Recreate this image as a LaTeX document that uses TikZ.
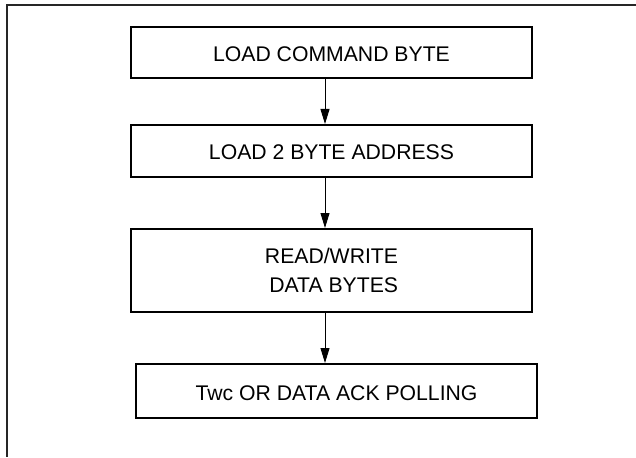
\documentclass[tikz,border=0pt]{standalone}
\usepackage{fontspec}
\setmainfont{Liberation Sans}
\usetikzlibrary{arrows.meta}
\begin{document}
\begin{tikzpicture}[x=1pt,y=-1pt,
  boxbase/.style={draw=black, line width=2pt, rectangle, inner sep=0pt,
    minimum width=401pt, font=\fontsize{21.2}{29.3}\selectfont},
  stepbox/.style={boxbase, text height=18pt, text depth=0pt},
  flow/.style={line width=1pt, -{Triangle[width=9pt,length=15pt]}},
  frameline/.style={line width=1.8pt, draw=black!85}]
\useasboundingbox (0,0) rectangle (636,457);
% open frame (top and left edges)
\draw[frameline] (636,4.7) -- (7.3,4.7) -- (7.3,457);
% boxes
\node[stepbox, minimum height=51pt] (b1) at (331.5,52.5) {LOAD COMMAND BYTE};
\node[stepbox, minimum height=52pt] (b2) at (331.5,151) {LOAD 2 BYTE ADDRESS};
\node[boxbase, minimum height=83pt, align=right] (b3) at (331.5,270.5) {READ/WRITE\\DATA BYTES};
\node[stepbox, minimum height=54pt] (b4) at (336.5,391) {Twc OR DATA ACK POLLING};
% arrow axis
\coordinate (ax) at (325,0);
\draw[flow] (b1.south -| ax) -- (b2.north -| ax);
\draw[flow] (b2.south -| ax) -- (b3.north -| ax);
\draw[flow] (b3.south -| ax) -- (b4.north -| ax);
\end{tikzpicture}
\end{document}
